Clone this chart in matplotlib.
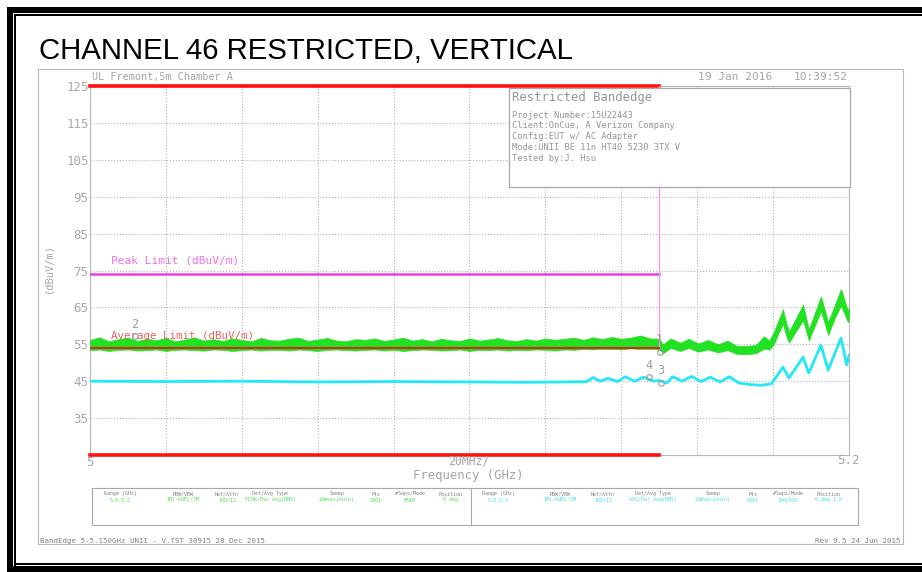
import matplotlib
matplotlib.use("Agg")
import matplotlib.pyplot as plt
from matplotlib.patches import Rectangle

# ---- values ----
peak_limit = 74.0
avg_limit = 54.0
band_edge = 5.15

# peak trace (green) as lower / upper envelope of the noisy trace
green_f = [5.0000, 5.0025, 5.0050, 5.0075, 5.0100, 5.0125, 5.0150, 5.0175, 5.0200, 5.0225,
           5.0250, 5.0275, 5.0300, 5.0325, 5.0350, 5.0375, 5.0400, 5.0425, 5.0450, 5.0475,
           5.0500, 5.0525, 5.0550, 5.0575, 5.0600, 5.0625, 5.0650, 5.0675, 5.0700, 5.0725,
           5.0750, 5.0775, 5.0800, 5.0825, 5.0850, 5.0875, 5.0900, 5.0925, 5.0950, 5.0975,
           5.1000, 5.1025, 5.1050, 5.1075, 5.1100, 5.1125, 5.1150, 5.1175, 5.1200, 5.1225,
           5.1250, 5.1275, 5.1300, 5.1325, 5.1350, 5.1375, 5.1400, 5.1425, 5.1450, 5.1475,
           5.1500, 5.1510, 5.1530, 5.1555, 5.1578, 5.1603, 5.1628, 5.1655, 5.1680,
           5.1705, 5.1730, 5.1755, 5.1776, 5.1790, 5.1802, 5.1814, 5.1826, 5.1834, 5.1842,
           5.1860, 5.1879, 5.1894, 5.1910, 5.1926, 5.1945, 5.1962, 5.1979, 5.1997, 5.2000]
green_hi = [56.2, 56.9, 55.8, 56.4, 56.8, 55.9, 56.5, 56.1, 56.7, 55.8,
            56.3, 56.9, 56.0, 56.4, 55.9, 56.6, 56.2, 55.8, 56.7, 56.1,
            56.0, 56.5, 56.8, 55.9, 56.3, 56.7, 56.0, 55.8, 56.4, 56.2,
            56.6, 55.9, 56.3, 56.8, 56.0, 56.4, 55.8, 56.5, 56.1, 55.9,
            56.6, 56.0, 56.3, 56.7, 56.1, 55.9, 56.4, 56.0, 56.6, 56.2,
            56.5, 56.8, 56.2, 56.9, 56.4, 57.0, 56.5, 56.8, 57.4, 56.6,
            56.5, 55.0, 56.6, 55.4, 56.5, 55.2, 56.2, 55.0, 56.0,
            54.5, 54.6, 54.8, 57.2, 56.0, 58.4, 61.5, 64.5, 61.0, 58.5,
            62.0, 65.8, 59.0, 63.5, 68.0, 61.0, 65.5, 70.0, 64.0, 65.0]
green_lo = [53.4, 53.6, 53.2, 53.5, 53.6, 53.3, 53.4, 53.6, 53.2, 53.5,
            53.6, 53.4, 53.3, 53.6, 53.5, 53.2, 53.4, 53.6, 53.3, 53.5,
            53.5, 53.3, 53.6, 53.4, 53.2, 53.5, 53.6, 53.4, 53.3, 53.5,
            53.6, 53.3, 53.5, 53.2, 53.4, 53.6, 53.5, 53.3, 53.4, 53.6,
            53.2, 53.5, 53.4, 53.6, 53.3, 53.5, 53.4, 53.6, 53.5, 53.3,
            53.6, 53.5, 53.7, 53.6, 53.8, 53.7, 53.6, 53.9, 53.7, 53.8,
            53.6, 52.6, 54.0, 53.2, 54.0, 53.0, 53.6, 52.8, 53.4,
            52.4, 52.3, 52.6, 53.8, 53.6, 55.0, 58.0, 60.5, 57.5, 55.5,
            58.5, 61.5, 56.0, 60.0, 64.0, 57.5, 62.0, 65.5, 61.0, 62.0]

# average trace (cyan)
cyan_f = [5.000, 5.020, 5.040, 5.060, 5.080, 5.100, 5.115, 5.125, 5.131, 5.1325,
          5.1345, 5.1365, 5.139, 5.141, 5.1435, 5.146, 5.1485, 5.150, 5.152, 5.1535,
          5.156, 5.1585, 5.161, 5.1635, 5.166, 5.1685, 5.171, 5.174, 5.177, 5.1795,
          5.1802, 5.1826, 5.1842, 5.1879, 5.1894, 5.1926, 5.1945, 5.1979, 5.1994, 5.2000]
cyan_db = [45.0, 44.9, 45.0, 44.8, 44.9, 44.8, 44.7, 44.8, 44.9, 46.0,
           45.0, 45.8, 44.9, 46.2, 45.0, 46.1, 45.0, 45.2, 44.5, 46.2,
           45.0, 46.3, 44.9, 46.1, 44.8, 46.2, 44.5, 44.1, 43.9, 44.3,
           45.2, 48.8, 45.9, 51.5, 47.2, 54.8, 48.0, 56.7, 49.4, 52.0]

# markers
marker_id = ["2", "1", "4", "3"]
marker_f = [5.0119, 5.1501, 5.1472, 5.1504]
marker_db = [57.2, 52.9, 46.1, 44.5]

y_ticks = [35, 45, 55, 65, 75, 85, 95, 105, 115, 125]
x_grid = [5.00, 5.02, 5.04, 5.06, 5.08, 5.10, 5.12, 5.14, 5.16, 5.18, 5.20]

info_lines = ["Project Number:15U22443",
              "Client:OnCue, A Verizon Company",
              "Config:EUT w/ AC Adapter",
              "Mode:UNII BE 11n HT40 5230 3TX V",
              "Tested by:J. Hsu"]
table_head = ["Range (GHz)", "RBW/VBW", "Ref/Attn", "Det/Avg Type", "Sweep",
              "Pts", "#Swps/Mode", "Position"]
table_pk = ["5.0-5.2", "1M(-6dB)/3M", "109/12", "PEAK/Pwr Avg(RMS)", "20msec(Auto)",
            "8001", "MAXH", "0 deg"]
table_av = ["5.0-5.2", "1M(-6dB)/3M", "109/12", "AVG/Pwr Avg(RMS)", "20msec(Auto)",
            "8001", "100/AVG", "0 deg 1.0"]

W, H = 922, 572
grey = "#a4a4a4"
mono = "DejaVu Sans Mono"


def frac(x0, y0, x1, y1):
    return [x0 / W, 1 - y1 / H, (x1 - x0) / W, (y1 - y0) / H]


fig = plt.figure(figsize=(W / 100, H / 100), dpi=100)
fig.patch.set_facecolor("white")

ax = fig.add_axes(frac(90, 86, 849, 455))
ax.set_xlim(5.0, 5.2)
ax.set_ylim(25, 125)
ax.set_xticks(x_grid)
ax.set_xticklabels([])
ax.set_yticks(y_ticks)
ax.set_yticklabels([str(v) for v in y_ticks], family=mono, fontsize=9, color="#a8a8a8")
ax.tick_params(length=0, pad=1)
ax.grid(True, ls=":", color="#b4b4b4", lw=0.8)
for s in ax.spines.values():
    s.set_color("#b8b8b8")
    s.set_linewidth(0.8)

# traces
ax.fill_between(green_f, green_lo, green_hi, color="#22e022", lw=0.5, zorder=3)
ax.plot(cyan_f, cyan_db, color="#22e8f8", lw=2.0, zorder=3)

# limit lines
ax.plot([5.0, band_edge], [125, 125], color="#ff1010", lw=2.6, clip_on=False, zorder=4)
ax.plot([5.0, band_edge], [25, 25], color="#ff1010", lw=2.6, clip_on=False, zorder=4)
ax.plot([5.0, band_edge], [peak_limit, peak_limit], color="#e640e0", lw=1.8, zorder=4)
ax.plot([band_edge, band_edge], [avg_limit, 125], color="#f29af0", lw=1.0, zorder=4)
ax.plot([5.0, band_edge], [avg_limit, avg_limit], color="#d8281c", lw=1.5, zorder=4)
ax.text(5.0055, 77.6, "Peak Limit (dBuV/m)", family=mono, fontsize=8,
        color="#f070e6", va="center", zorder=5)
ax.text(5.0055, 57.3, "Average Limit (dBuV/m)", family=mono, fontsize=7.8,
        color="#f06060", va="center", zorder=5)

# markers
ax.plot(marker_f, marker_db, ls="none", marker="o", ms=4, mfc="none",
        mec="#999999", mew=0.8, zorder=6)
for m, f, d in zip(marker_id, marker_f, marker_db):
    ax.annotate(m, (f, d), xytext=(0, 4), textcoords="offset points",
                ha="center", va="bottom", family=mono, fontsize=8.5,
                color="#999999", zorder=6)

# ---- page furniture in pixel coordinates ----
ov = fig.add_axes([0, 0, 1, 1], zorder=5)
ov.set_xlim(0, W)
ov.set_ylim(H, 0)
ov.axis("off")

# black double border
for r in [(7, 7, W, 6), (7, 7, 6, H), (7, 566, W, 6),
          (14, 14, W, 2), (14, 14, 2, 552), (14, 563, W, 2)]:
    ov.add_patch(Rectangle((r[0], r[1]), r[2], r[3], color="black", lw=0))

ov.text(39, 59, "CHANNEL 46 RESTRICTED, VERTICAL", family="Liberation Sans",
        fontsize=21.2, va="baseline", ha="left")

# screenshot frame
ov.add_patch(Rectangle((38, 69), 865, 475, fill=False, ec="#b8b8b8", lw=0.8))

ov.text(92, 77, "UL Fremont,5m Chamber A", family=mono, fontsize=7.3,
        color=grey, va="center")
ov.text(698, 77, "19 Jan 2016", family=mono, fontsize=8, color=grey, va="center")
ov.text(848, 77, "10:39:52", family=mono, fontsize=8, color=grey, va="center",
        ha="right")

# info box
ov.add_patch(Rectangle((509, 88), 341, 99, fc="white", ec="#a8a8a8", lw=0.9))
ov.text(512, 97, "Restricted Bandedge", family=mono, fontsize=8.8,
        color="#959595", va="center")
for i, line in enumerate(info_lines):
    ov.text(512, 115 + 10.8 * i, line, family=mono, fontsize=6.3,
            color="#959595", va="center")

ov.text(48, 268, "(dBuV/m)", family=mono, fontsize=7.5, color=grey,
        rotation=90, va="center", ha="center")
ov.text(90, 462, "5", family=mono, fontsize=9, color=grey, va="center", ha="center")
ov.text(469, 461, "20MHz/", family=mono, fontsize=8.3, color=grey, va="center",
        ha="center")
ov.text(848, 461, "5.2", family=mono, fontsize=9, color=grey, va="center",
        ha="center")
ov.text(468, 476, "Frequency (GHz)", family=mono, fontsize=8.8, color=grey,
        va="center", ha="center")

# settings table
ov.add_patch(Rectangle((92, 488), 766, 37, fill=False, ec="#a8a8a8", lw=0.8))
ov.plot([471, 471], [488, 525], color="#a8a8a8", lw=0.8)
col_left = [120, 183, 227, 270, 337, 376, 410, 450]
col_right = [498, 560, 603, 653, 713, 753, 788, 828]
for x0, x1, h, a, b in zip(col_left, col_right, table_head, table_pk, table_av):
    for xx, val, col in [(x0, a, "#55dd55"), (x1, b, "#44ddee")]:
        ov.text(xx, 494, h, family=mono, fontsize=3.6, color="#808080",
                ha="center", va="center")
        ov.text(xx, 500, val, family=mono, fontsize=3.6, color=col,
                ha="center", va="center")

ov.text(40, 541, "BandEdge 5-5.150GHz UNII - V.TST 30915 28 Dec 2015", family=mono,
        fontsize=5.3, color="#808080", va="center")
ov.text(900, 541, "Rev 9.5 24 Jun 2015", family=mono, fontsize=5.4,
        color="#808080", va="center", ha="right")

fig.savefig("out.png", dpi=100)
